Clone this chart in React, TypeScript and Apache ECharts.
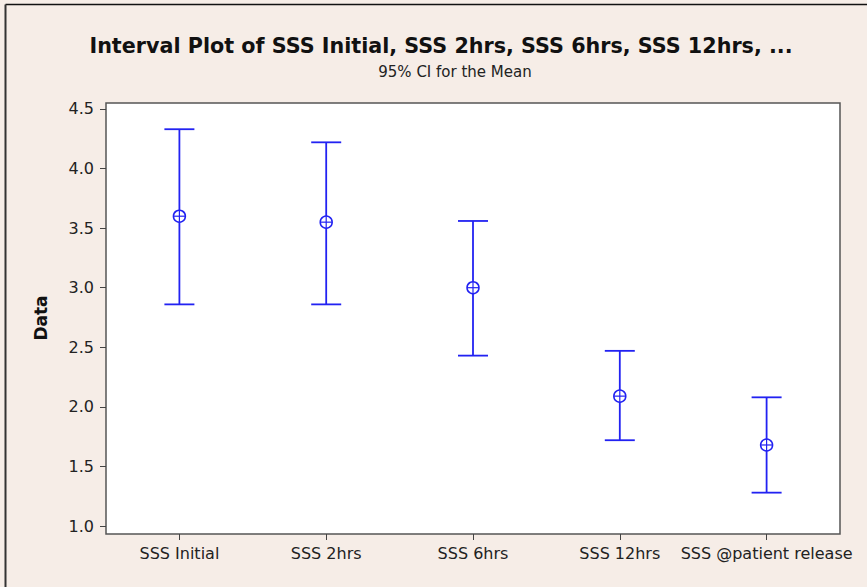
import React, { useEffect, useRef } from "react";
import * as echarts from "echarts";

const categories = ["SSS Initial", "SSS 2hrs", "SSS 6hrs", "SSS 12hrs", "SSS @patient release"];
const means = [3.6, 3.55, 3.0, 2.09, 1.68];
const lowers = [2.86, 2.86, 2.43, 1.72, 1.28];
const uppers = [4.33, 4.22, 3.56, 2.47, 2.08];
const yTicks = [1.0, 1.5, 2.0, 2.5, 3.0, 3.5, 4.0, 4.5];

const BLUE = "#2222F2";
const FONT = "DejaVu Sans";

export default function App() {
  const ref = useRef<HTMLDivElement>(null);
  useEffect(() => {
    if (!ref.current) return;
    const chart = echarts.init(ref.current, null, { renderer: "svg" });
    const data = categories.map((_, i) => [i, means[i], lowers[i], uppers[i]]);
    chart.setOption({
      animation: false,
      backgroundColor: "#F6EDE7",
      graphic: [
        { type: "line", shape: { x1: 5.5, y1: 4.5, x2: 867, y2: 4.5 }, style: { stroke: "#111", lineWidth: 1.5 } },
        { type: "line", shape: { x1: 5.5, y1: 4.5, x2: 5.5, y2: 587 }, style: { stroke: "#333", lineWidth: 2 } },
        {
          type: "text",
          style: {
            text: "Interval Plot of SSS Initial, SSS 2hrs, SSS 6hrs, SSS 12hrs, ...",
            x: 441,
            y: 46,
            align: "center",
            verticalAlign: "middle",
            font: `bold 20.7px "${FONT}"`,
            fill: "#111",
          },
        },
        {
          type: "text",
          style: {
            text: "95% CI for the Mean",
            x: 455,
            y: 72,
            align: "center",
            verticalAlign: "middle",
            font: `15px "${FONT}"`,
            fill: "#222",
          },
        },
        {
          type: "text",
          rotation: Math.PI / 2,
          x: 41,
          y: 318,
          style: {
            text: "Data",
            x: 0,
            y: 0,
            align: "center",
            verticalAlign: "middle",
            font: `bold 17px "${FONT}"`,
            fill: "#111",
          },
        },
      ],
      grid: {
        left: 106,
        right: 27,
        top: 103,
        bottom: 53,
        show: true,
        backgroundColor: "#FFFFFF",
        borderColor: "#555",
        borderWidth: 1.5,
      },
      xAxis: {
        type: "category",
        data: categories,
        boundaryGap: true,
        axisLine: { show: false },
        axisTick: { show: true, alignWithLabel: true, length: 6, lineStyle: { color: "#444" } },
        axisLabel: { color: "#222", fontFamily: FONT, fontSize: 16, margin: 11, interval: 0 },
        splitLine: { show: false },
      },
      yAxis: {
        type: "value",
        min: 0.933,
        max: 4.55,
        axisLine: { show: false },
        axisTick: { show: true, length: 6, customValues: yTicks, lineStyle: { color: "#444" } },
        axisLabel: {
          color: "#222",
          fontFamily: FONT,
          fontSize: 16,
          margin: 12,
          customValues: yTicks,
          formatter: (v: number) => v.toFixed(1),
        },
        splitLine: { show: false },
      },
      series: [
        {
          type: "custom",
          data,
          encode: { x: 0, y: [1, 2, 3] },
          renderItem: (params: any, api: any) => {
            const i = api.value(0);
            const m = api.coord([i, api.value(1)]);
            const lo = api.coord([i, api.value(2)]);
            const hi = api.coord([i, api.value(3)]);
            const x = m[0];
            const r = 6;
            const ls = { stroke: BLUE, lineWidth: 1.8 };
            return {
              type: "group",
              children: [
                { type: "line", shape: { x1: x, y1: hi[1], x2: x, y2: m[1] - r }, style: ls },
                { type: "line", shape: { x1: x, y1: m[1] + r, x2: x, y2: lo[1] }, style: ls },
                { type: "line", shape: { x1: x - 15, y1: hi[1], x2: x + 15, y2: hi[1] }, style: ls },
                { type: "line", shape: { x1: x - 15, y1: lo[1], x2: x + 15, y2: lo[1] }, style: ls },
                { type: "circle", shape: { cx: x, cy: m[1], r }, style: { fill: "#fff", stroke: BLUE, lineWidth: 1.5 } },
                { type: "line", shape: { x1: x - r, y1: m[1], x2: x + r, y2: m[1] }, style: { stroke: BLUE, lineWidth: 1.2 } },
                { type: "line", shape: { x1: x, y1: m[1] - r, x2: x, y2: m[1] + r }, style: { stroke: BLUE, lineWidth: 1.2 } },
              ],
            };
          },
        },
      ],
    });
    return () => chart.dispose();
  }, []);
  return <div ref={ref} style={{ position: "absolute", left: 0, top: 0, width: 867, height: 587 }} />;
}
